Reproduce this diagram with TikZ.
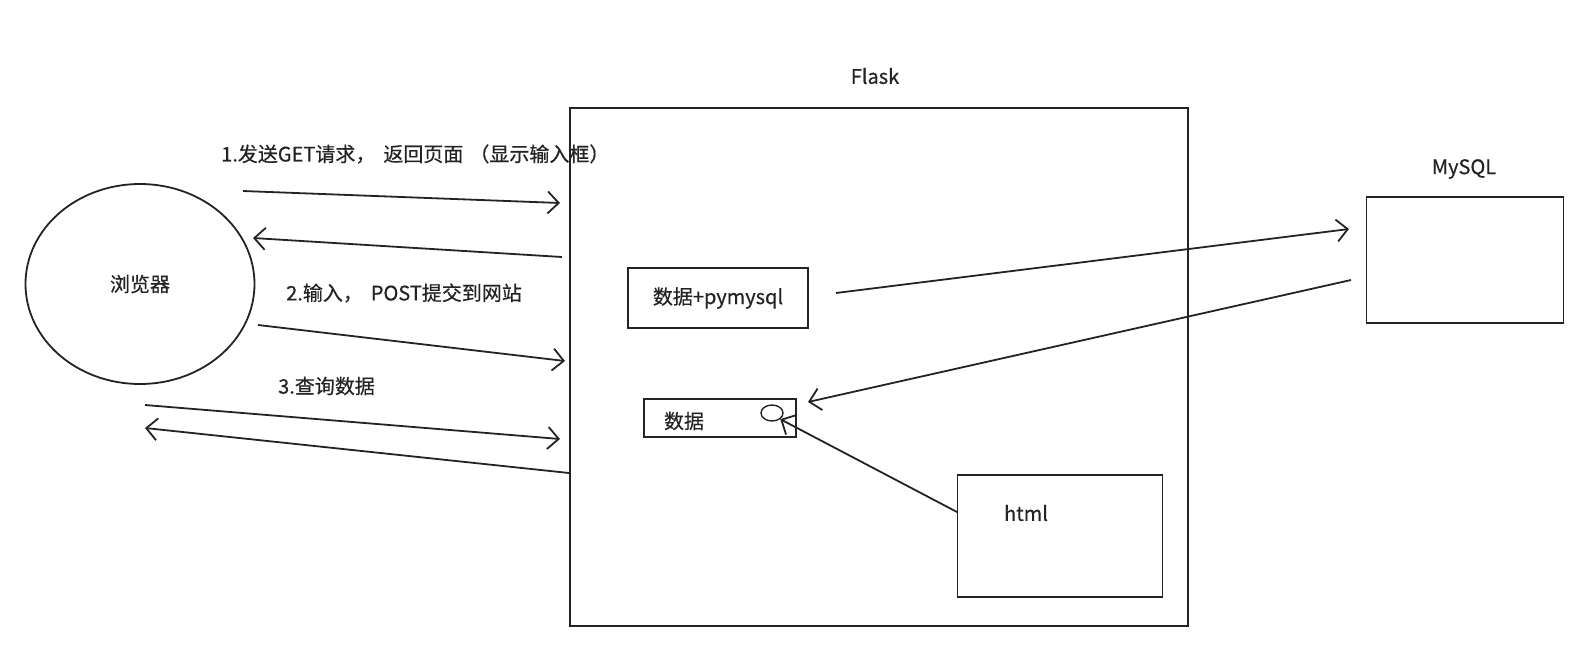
\documentclass[tikz,border=0pt]{standalone}
\usepackage{fontspec}
\usepackage{tikz}
\usetikzlibrary{arrows.meta,positioning,shapes.geometric}
\setmainfont{Noto Sans CJK SC}[FakeBold=0.5]
\definecolor{InkGray}{RGB}{35,35,35}

\begin{document}
\begin{tikzpicture}[x=1pt,y=-1pt,
  every node/.style={font=\fontsize{20}{24}\selectfont, text=InkGray},
  box/.style={draw=InkGray, line width=1.8pt, inner sep=0pt},
  arr/.style={draw=InkGray, line width=1.8pt, -{Straight Barb[length=11pt,width=22pt,line width=1.8pt]}},
  lbl/.style={anchor=west, inner sep=0pt}]
\useasboundingbox (0,0) rectangle (1587,662);

% main parts
\node[box, ellipse, minimum width=229pt, minimum height=200pt] (browser) at (140,284) {};
\node at (browser.center) {浏览器};
\node[box, minimum width=618pt, minimum height=518pt] (flask) at (879,367) {};
\node (flasklbl) at (875,76) {Flask};
\node[box, minimum width=197pt, minimum height=126pt] (mysql) at (1465,260) {};
\node (mysqllbl) at (1464,169) {MySQL};

% boxes inside flask
\node[box, minimum width=180pt, minimum height=60pt] (pym) at (718,298) {};
\node at (pym.center) {数据+pymysql};
\node[box, minimum width=152pt, minimum height=38pt] (data) at (720,418) {};
\node (datalbl) at (684,421) {数据};
\node[box, ellipse, line width=1.4pt, minimum width=22pt, minimum height=16pt] (dot) at (772,413) {};
\node[box, minimum width=205pt, minimum height=122pt] (html) at (1060,536) {};
\node (htmllbl) at (1026,513) {html};

% end points of the arrows
\coordinate (g1s) at (243,191);  \coordinate (g1e) at (560,203);
\coordinate (g2s) at (562,257);  \coordinate (g2e) at (253,238);
\coordinate (p1s) at (258,325);  \coordinate (p1e) at (565,361);
\coordinate (q1s) at (145,405);  \coordinate (q1e) at (560,439);
\coordinate (q2s) at (569,473);  \coordinate (q2e) at (145,428);
\coordinate (sqls) at (836,293); \coordinate (sqle) at (1349,229);
\coordinate (rets) at (1351,280); \coordinate (rete) at (808,402);
\coordinate (htmls) at (957,512);

% labels
\node[lbl] (step1) at (221,154) {1.发送GET请求，\hspace{8pt}返回页面\hspace{6pt}（显示输入框）};
\node[lbl] (step2) at (286,293) {2.输入，\hspace{8pt}POST提交到网站};
\node[lbl] (step3) at (278,386) {3.查询数据};

% arrows
\draw[arr] (g1s) -- (g1e);
\draw[arr] (g2s) -- (g2e);
\draw[arr] (p1s) -- (p1e);
\draw[arr] (q1s) -- (q1e);
\draw[arr] (q2s) -- (q2e);
\draw[arr] (sqls) -- (sqle);
\draw[arr] (rets) -- (rete);
\draw[arr] (htmls) -- (dot.south east);
\end{tikzpicture}
\end{document}
